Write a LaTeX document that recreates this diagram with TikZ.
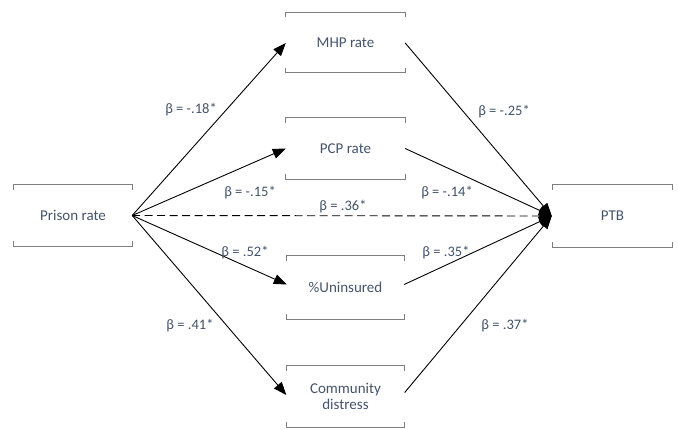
\documentclass[tikz,border=0pt]{standalone}
\usepackage{fontspec}
\setmainfont{Carlito}
\usetikzlibrary{arrows.meta}
\definecolor{txt}{HTML}{44546A}
\definecolor{brk}{HTML}{7F7F7F}
\tikzset{
  var/.style={minimum width=119pt, minimum height=60pt, inner sep=0pt, text=txt, font=\fontsize{15}{16.5}\selectfont, align=center},
  coef/.style={text=txt, font=\fontsize{14.5}{16}\selectfont, inner sep=1pt},
  path/.style={draw=black, line width=0.9pt, -{Triangle[length=13pt,width=10pt]}},
  brack/.style={draw=brk, line width=0.8pt}
}
\newcommand\bracketbox[1]{%
  \draw[brack] ([yshift=-5pt]#1.north west) -- (#1.north west) -- (#1.north east) -- ([yshift=-5pt]#1.north east);
  \draw[brack] ([yshift=5pt]#1.south west) -- (#1.south west) -- (#1.south east) -- ([yshift=5pt]#1.south east);
}
\begin{document}
\begin{tikzpicture}[x=1pt,y=-1pt]
\useasboundingbox (0,0) rectangle (678,429);
\node[var, minimum width=118pt, minimum height=61pt] (prison) at (73,215.5) {Prison rate};
\node[var] (mhp) at (345.5,42.5) {MHP rate};
\node[var, minimum height=61pt] (pcp) at (345.5,148.5) {PCP rate};
\node[var, minimum width=117pt, minimum height=63pt] (unins) at (345.5,287.5) {\%Uninsured};
\node[var, minimum width=118pt, minimum height=61pt] (comm) at (345.5,396.5) {Community\\distress};
\node[var, minimum height=62pt] (ptb) at (612.5,216) {PTB};
\foreach \n in {prison,mhp,pcp,unins,comm,ptb}{\bracketbox{\n}}
\coordinate (o) at (prison.east);
\coordinate (t) at ([xshift=-1pt]ptb.west);
\draw[path] (o) -- ([yshift=-0.5pt]mhp.west);
\draw[path] (o) -- (pcp.west);
\draw[path] (o) -- ([yshift=3pt]unins.west);
\draw[path] (o) -- ([yshift=1.5pt]comm.west);
\draw[line width=0.9pt, dash pattern=on 8pt off 4.5pt, -{Triangle[length=13pt,width=10pt]}] (o) -- (t);
\draw[path] ([yshift=-0.5pt]mhp.east) -- (t);
\draw[path] (pcp.east) -- (t);
\draw[path] ([yshift=3pt]unins.east) -- (t);
\draw[path] ([yshift=4pt]comm.east) -- (t);
\node[coef] (c1) at (191,110) {β = -.18*};
\node[coef] (c2) at (504,112) {β = -.25*};
\node[coef] (c3) at (250,193) {β = -.15*};
\node[coef] (c4) at (447,193) {β = -.14*};
\node[coef] (c5) at (343,207) {β = .36*};
\node[coef] (c6) at (245,253) {β = .52*};
\node[coef] (c7) at (446,253) {β = .35*};
\node[coef] (c8) at (190,326) {β = .41*};
\node[coef] (c9) at (505,326) {β = .37*};
\end{tikzpicture}
\end{document}
